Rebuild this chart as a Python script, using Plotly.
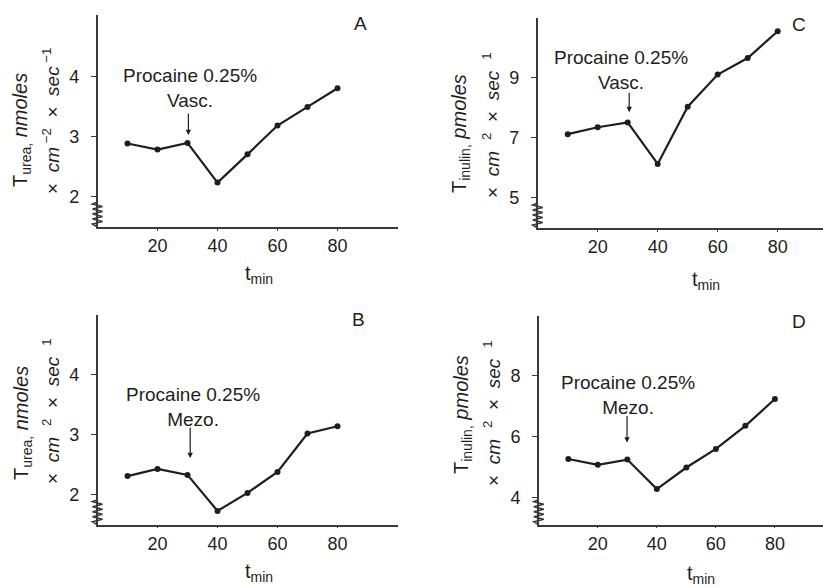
import plotly.graph_objects as go

# ---------------- data ----------------
time_min = [10, 20, 30, 40, 50, 60, 70, 80]
urea_vasc = [2.89, 2.79, 2.90, 2.24, 2.71, 3.19, 3.50, 3.81]      # panel A
urea_mezo = [2.31, 2.43, 2.33, 1.73, 2.03, 2.38, 3.02, 3.14]      # panel B
inulin_vasc = [7.12, 7.35, 7.51, 6.13, 8.03, 9.10, 9.65, 10.54]   # panel C
inulin_mezo = [5.26, 5.07, 5.24, 4.27, 4.98, 5.59, 6.35, 7.23]    # panel D
x_tick_vals = [20, 40, 60, 80]
y_ticks_urea = [2, 3, 4]
y_ticks_inulin_vasc = [5, 7, 9]
y_ticks_inulin_mezo = [4, 6, 8]
panel_letters = ["A", "C", "B", "D"]
drug_label = "Procaine 0.25%"
routes = ["Vasc.", "Vasc.", "Mezo.", "Mezo."]

FONT = "Liberation Sans, Arial, Helvetica, sans-serif"
INK = "#1e1e1e"
AX = "#3a3a3a"
W, H = 823, 586
NB = "\u00a0"

panels = [
    dict(ax="", series=urea_vasc, xr=[0, 100], yr=[1.5, 5.03], yt=y_ticks_urea,
         px=(97.5, 397.5), py=(15, 227)),
    dict(ax="2", series=inulin_vasc, xr=[0, 95.1], yr=[4.0, 10.98], yt=y_ticks_inulin_vasc,
         px=(537.7, 823), py=(18, 228)),
    dict(ax="3", series=urea_mezo, xr=[0, 100], yr=[1.5, 5.0], yt=y_ticks_urea,
         px=(97.5, 397.5), py=(314.7, 524.7)),
    dict(ax="4", series=inulin_mezo, xr=[0, 96.3], yr=[3.1, 9.95], yt=y_ticks_inulin_mezo,
         px=(538.8, 823), py=(316.3, 524.7)),
]

fig = go.Figure()
layout = dict(
    width=W, height=H, margin=dict(l=0, r=0, t=0, b=0),
    paper_bgcolor="white", plot_bgcolor="white", showlegend=False,
    font=dict(family=FONT, size=17, color=INK),
)
shapes = []

for p in panels:
    a = p["ax"]
    xa, ya = "x" + a, "y" + a
    fig.add_trace(go.Scatter(
        x=time_min, y=p["series"], xaxis=xa, yaxis=ya, mode="lines+markers",
        line=dict(color=INK, width=2.2), marker=dict(color=INK, size=6),
        cliponaxis=False, hoverinfo="skip"))

    dom_x = [p["px"][0] / W, p["px"][1] / W]
    dom_y = [(H - p["py"][1]) / H, (H - p["py"][0]) / H]

    # axis-break zigzag on the y axis, placed in paper space next to the axis line
    x0 = p["px"][0]
    yb = p["py"][1]
    top, bot = yb - 23, yb - 3
    n = 8
    pts = [(x0, top - 2)]
    for k in range(n + 1):
        yy = top + (bot - top) * k / n
        xx = x0 + (-5 if k % 2 == 0 else 5)
        pts.append((xx, yy))
    pts.append((x0, yb))
    path = "M " + " L ".join(f"{px_ / W:.5f},{1 - py_ / H:.5f}" for px_, py_ in pts)
    shapes.append(dict(type="path", xref="paper", yref="paper", path=path,
                       line=dict(color=AX, width=1.6), layer="above"))

    layout["xaxis" + a] = dict(
        domain=dom_x, range=p["xr"], anchor=ya, showline=True, linecolor=AX,
        linewidth=1.5, showgrid=False, zeroline=False, tickvals=x_tick_vals,
        ticks="outside", ticklen=2, tickwidth=1, tickcolor=AX,
        tickfont=dict(family=FONT, size=18, color=INK))
    layout["yaxis" + a] = dict(
        domain=dom_y, range=p["yr"], anchor=xa, showline=True, linecolor=AX,
        linewidth=1.5, showgrid=False, zeroline=False, tickvals=p["yt"],
        ticks="outside", ticklen=5, tickwidth=1, tickcolor=AX,
        ticklabelstandoff=8,
        tickfont=dict(family=FONT, size=18, color=INK))

layout["shapes"] = shapes
fig.update_layout(**layout)

ann = []
treat = [
    ("", 30.8, 3.81, 30.3, 3.03, 23),
    ("2", 27.7, 9.25, 30.5, 7.85, 21),
    ("3", 31.9, 3.47, 30.9, 2.61, 32),
    ("4", 30.2, 7.37, 29.9, 5.80, 28),
]
for (a, tx, ty, axx, tipy, L), route in zip(treat, routes):
    ann.append(dict(xref="x" + a, yref="y" + a, x=tx, y=ty,
                    text=drug_label + "<br>" + route, showarrow=False,
                    font=dict(family=FONT, size=19, color=INK),
                    xanchor="center", yanchor="middle", align="center"))
    ann.append(dict(xref="x" + a, yref="y" + a, x=axx, y=tipy, ax=0, ay=-L,
                    axref="pixel", ayref="pixel", text="", showarrow=True,
                    arrowhead=2, arrowsize=0.9, arrowwidth=1.2, arrowcolor=INK))

letter_pos = [(360, 24), (799, 25), (358.3, 319.7), (798.7, 321.3)]
for letter, (lx, ly) in zip(panel_letters, letter_pos):
    ann.append(dict(xref="paper", yref="paper", x=lx / W, y=1 - ly / H, text=letter,
                    showarrow=False, font=dict(family=FONT, size=19, color=INK),
                    xanchor="center", yanchor="middle"))

line1_urea = "T<sub>urea,</sub>" + NB + "<i>nmoles</i>"
line1_inulin = "T<sub>inulin,</sub>" + NB + "<i>pmoles</i>"
line2_A = "×" + NB * 2 + "<i>cm</i><sup>" + NB + "−2</sup>" + NB * 2 + "×" + NB * 2 + "<i>sec</i><sup>" + NB + "−1</sup>"
line2_other = "×" + NB * 2 + "<i>cm</i><sup>" + NB * 3 + "2</sup>" + NB * 2 + "×" + NB * 2 + "<i>sec</i><sup>" + NB * 3 + "1</sup>"
ytitles = [
    (line1_urea, 22, 130, line2_A, 51, 121),
    (line1_inulin, 461, 133, line2_other, 491, 125),
    (line1_urea, 22, 423, line2_other, 51, 411),
    (line1_inulin, 462, 415, line2_other, 492, 413),
]
for t1, x1, y1, t2, x2, y2 in ytitles:
    ann.append(dict(xref="paper", yref="paper", x=x1 / W, y=1 - y1 / H, text=t1,
                    textangle=-90, showarrow=False,
                    font=dict(family=FONT, size=20, color=INK),
                    xanchor="center", yanchor="middle"))
    ann.append(dict(xref="paper", yref="paper", x=x2 / W, y=1 - y2 / H, text=t2,
                    textangle=-90, showarrow=False,
                    font=dict(family=FONT, size=19, color=INK),
                    xanchor="center", yanchor="middle"))

xt_pos = [(259, 274), (706, 280), (259, 572), (701, 574)]
for xx, yy in xt_pos:
    ann.append(dict(xref="paper", yref="paper", x=xx / W, y=1 - yy / H,
                    text="t<sub>min</sub>", showarrow=False,
                    font=dict(family=FONT, size=20, color=INK),
                    xanchor="center", yanchor="middle"))

fig.update_layout(annotations=ann)
fig.write_html("out.html", config={"displayModeBar": False},
               post_script="document.body.style.margin='0';document.body.style.overflow='hidden';")
